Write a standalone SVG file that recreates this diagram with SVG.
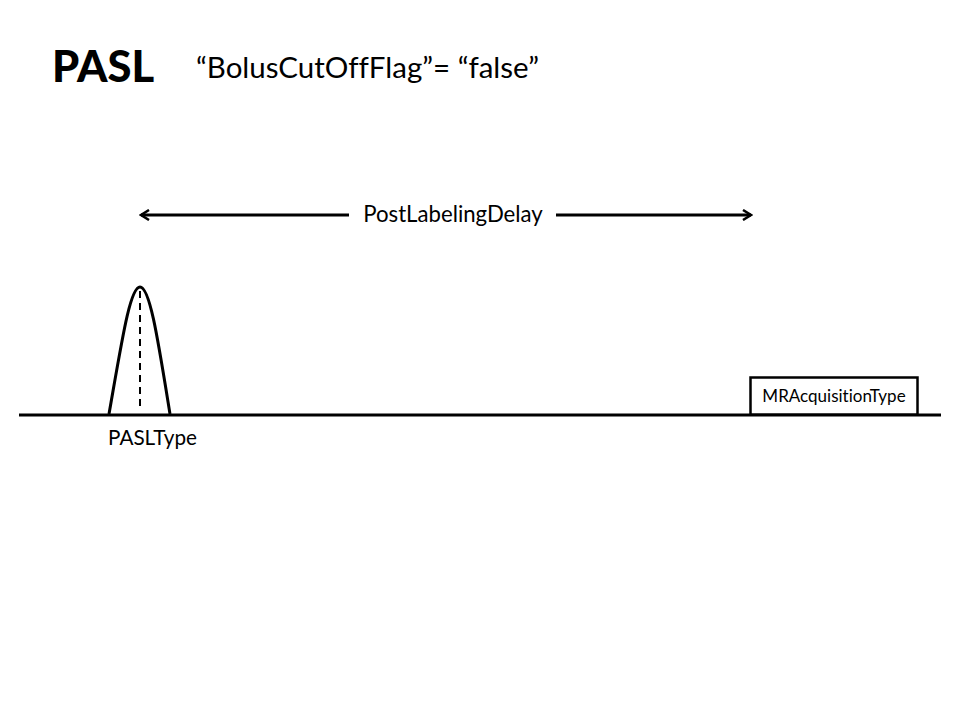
<svg xmlns="http://www.w3.org/2000/svg" width="960" height="720" viewBox="0 0 960 720">
<defs>
<style>
text{font-family:Lato,"Liberation Sans",sans-serif;fill:#000;font-variant-ligatures:none}
.ln{stroke:#000;stroke-width:3;fill:none}
</style>
<marker id="ah" viewBox="0 0 12 12" refX="10" refY="6" markerWidth="12" markerHeight="12" markerUnits="userSpaceOnUse" orient="auto-start-reverse">
<path d="M2,1 L10,6 L2,11" fill="none" stroke="#000" stroke-width="2.5"/>
</marker>
</defs>
<rect width="960" height="720" fill="#fff"/>
<g id="title">
<text x="52" y="82" font-size="43.5" font-weight="900">PASL</text>
<text x="196" y="78" font-size="29.5">“BolusCutOffFlag”= “false”</text>
</g>
<g id="baseline"><line class="ln" x1="19" y1="415" x2="941" y2="415"/></g>
<g id="pulse">
<path class="ln" d="M109,414 C122,340 130,287 140,287 C150,287 158,340 170,414"/>
<line x1="140" y1="291" x2="140" y2="406" stroke="#000" stroke-width="2" stroke-dasharray="7,5"/>
<text x="108" y="445" font-size="20.7">PASLType</text>
</g>
<g id="acq">
<rect x="750.5" y="377.5" width="167" height="37" fill="#fff" stroke="#000" stroke-width="2.5"/>
<text x="834" y="402" font-size="17" text-anchor="middle">MRAcquisitionType</text>
</g>
<g id="connectors">
<line class="ln" x1="141" y1="215" x2="349" y2="215" marker-start="url(#ah)"/>
<line class="ln" x1="556" y1="215" x2="751" y2="215" marker-end="url(#ah)"/>
<text x="453" y="222" font-size="22.2" text-anchor="middle">PostLabelingDelay</text>
</g>
</svg>
